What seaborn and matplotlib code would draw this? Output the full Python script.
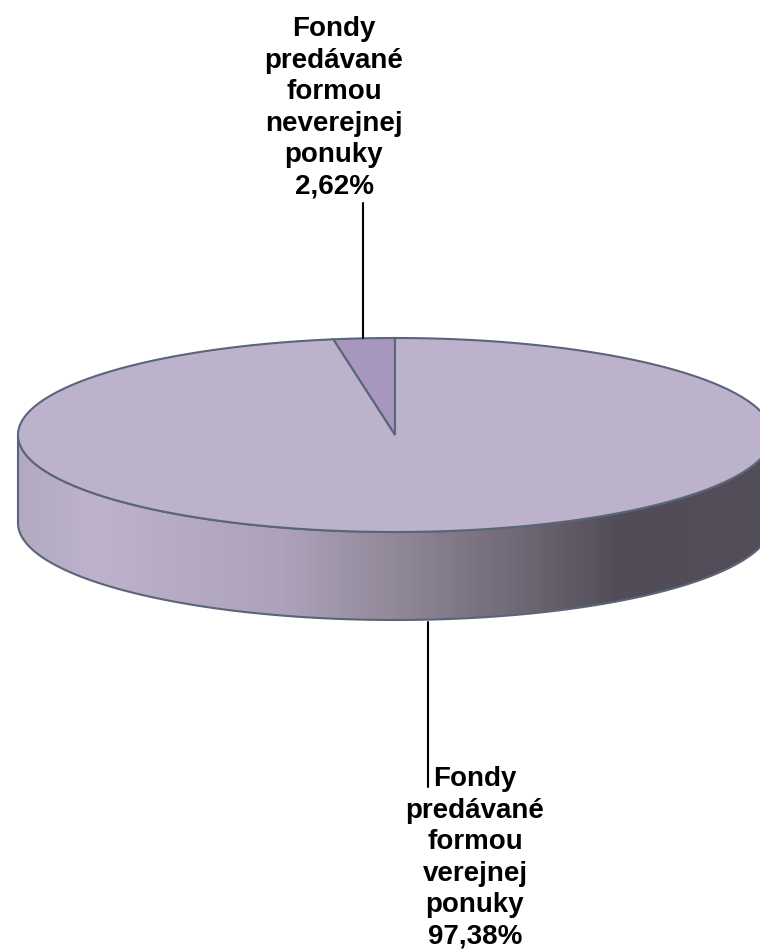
import numpy as np
import matplotlib
matplotlib.use("Agg")
import matplotlib.pyplot as plt
import seaborn as sns
from matplotlib.colors import LinearSegmentedColormap
from matplotlib.patches import Polygon

# ---- data ----
labels = ["Fondy\npredávané\nformou\nneverejnej\nponuky",
          "Fondy\npredávané\nformou\nverejnej\nponuky"]
shares = [2.62, 97.38]
pct_labels = ["2,62%", "97,38%"]

sns.set_theme(style="white")
plt.rcParams['font.family'] = ['Liberation Sans', 'DejaVu Sans']

top_colors = ["#A797BE", "#BCB2CB"]
edge_col = "#5B6579"

fig = plt.figure(figsize=(7.6, 9.52), dpi=100)
ax = fig.add_axes([0, 0, 1, 1])
ax.set_xlim(0, 760)
ax.set_ylim(952, 0)
ax.axis('off')

cx, cy, rx, ry, depth = 395, 435, 377, 97, 88

def ell(t, dy=0):
    t = np.radians(t)
    return np.column_stack([cx + rx * np.cos(t), cy - ry * np.sin(t) + dy])

# side band
t_front = np.linspace(180, 360, 400)
side = np.vstack([ell(t_front), ell(t_front[::-1], depth)])
side_poly = Polygon(side, closed=True, facecolor='none', edgecolor=edge_col, lw=1.5, zorder=2)
ax.add_patch(side_poly)
cmap = LinearSegmentedColormap.from_list("side", [
    (0.0, "#B3A9C1"), (0.1, "#BEB2CC"), (0.35, "#ADA2BA"), (0.5, "#918899"),
    (0.62, "#79717F"), (0.8, "#514C58"), (1.0, "#534E58")])
grad = np.linspace(0, 1, 512)[None, :]
im = ax.imshow(grad, cmap=cmap, aspect='auto',
               extent=(cx - rx, cx + rx, cy + ry + depth, cy - ry), zorder=1)
im.set_clip_path(side_poly)

# top slices
fracs = np.array(shares) / sum(shares)
start = 90.0
for i, f in enumerate(fracs):
    end = start + 360 * f
    tt = np.linspace(start, end, max(int(360 * f * 3), 10))
    pts = np.vstack([[cx, cy], ell(tt)])
    ax.add_patch(Polygon(pts, closed=True, facecolor=top_colors[i],
                         edgecolor=edge_col, lw=1.5, zorder=3))
    start = end

# labels and leader lines
ax.plot([363, 363], [203, 338], color='black', lw=1.5, zorder=4)
ax.text(334, 108, labels[0] + "\n" + pct_labels[0], ha='center', va='center',
        fontsize=20, fontweight='bold', linespacing=1.28, color='black')
ax.plot([428, 428], [622, 787], color='black', lw=1.5, zorder=4)
ax.text(475, 858, labels[1] + "\n" + pct_labels[1], ha='center', va='center',
        fontsize=20, fontweight='bold', linespacing=1.28, color='black')

fig.savefig("out.png", dpi=100)
